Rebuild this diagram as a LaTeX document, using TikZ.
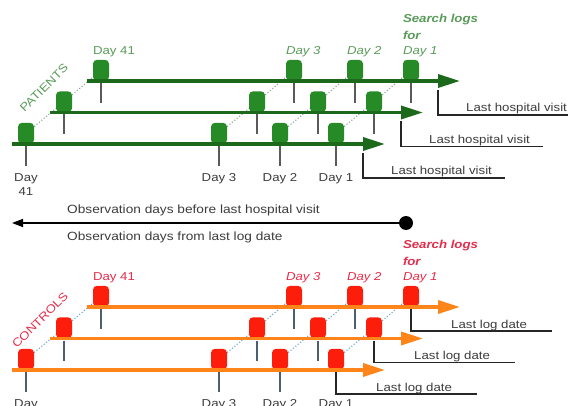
\documentclass[tikz,border=0pt]{standalone}
\usepackage{fontspec}
\setmainfont{Liberation Sans}[FakeStretch=1.15]
\usetikzlibrary{arrows.meta, positioning, backgrounds}
\definecolor{ptline}{RGB}{28,105,28}
\definecolor{ptmark}{RGB}{38,138,38}
\definecolor{pttext}{RGB}{90,155,90}
\definecolor{ctline}{RGB}{255,132,25}
\definecolor{ctmark}{RGB}{252,30,10}
\definecolor{cttext}{RGB}{228,45,75}
\definecolor{tickgray}{RGB}{90,90,90}
\definecolor{tickblue}{RGB}{75,95,110}
\definecolor{dotP}{RGB}{140,170,150}
\definecolor{dotC}{RGB}{110,170,205}
\definecolor{txtgray}{RGB}{60,60,60}
\tikzset{
  mkP/.style={rectangle, fill=ptmark, rounded corners=4pt,
    minimum width=16pt, minimum height=21pt, inner sep=0pt, anchor=south},
  mkC/.style={mkP, fill=ctmark},
  tlP/.style={line width=3.5pt, draw=ptline,
    -{Triangle[length=22pt, width=13pt]}},
  tlC/.style={tlP, draw=ctline},
  tckP/.style={line width=1.6pt, draw=tickgray},
  tckC/.style={tckP, draw=tickblue},
  dotsP/.style={dotted, line width=1.1pt, draw=dotP},
  dotsC/.style={dotsP, draw=dotC},
  brk/.style={line width=1.3pt, draw=black!85},
  lbl/.style={font=\fontsize{11.5}{14}\selectfont, text=txtgray, inner sep=0pt},
  obslbl/.style={lbl, font=\fontsize{11.9}{14}\selectfont},
  dayP/.style={lbl, text=pttext},
  dayPi/.style={dayP, font=\fontsize{11.5}{14}\selectfont\itshape},
  dayC/.style={lbl, text=cttext},
  dayCi/.style={dayC, font=\fontsize{11.5}{14}\selectfont\itshape},
  srchP/.style={dayP, align=left,
    font=\fontsize{11.5}{16.5}\selectfont\bfseries\itshape},
  srchC/.style={srchP, text=cttext},
  obs/.style={line width=1.4pt, draw=black,
    -{Triangle[length=11pt, width=8pt]}},
}

\begin{document}
\begin{tikzpicture}[x=1pt, y=-1pt]
  \useasboundingbox (0,0) rectangle (568,406);

  % patients
  \foreach \r/\s/\y in {1/87/81, 2/50/112.5, 3/12/144} {
    \foreach \d/\o in {a/14, b/207, c/268, d/324}
      \node[mkP] (p\r\d) at (\s+\o,\y) {};
    \coordinate (ps\r) at (\s,\y);
    \coordinate (pe\r) at (\s+373,\y);
    \draw[tlP] (ps\r) -- (pe\r);
    \foreach \d in {a,b,c,d}
      \draw[tckP] (p\r\d.south) ++(0,2) -- ++(0,20) coordinate (pt\r\d);
    \coordinate (bp\r) at (\s+351,\y+9);
    \draw[brk] (bp\r) |- ++(142,25);
    \node[lbl, anchor=base west] (lp\r) at (\s+379,\y+31) {Last hospital visit};
  }
  \begin{scope}[on background layer]
    \foreach \d in {a,b,c,d} {
      \draw[dotsP] (p3\d) -- (p2\d);
      \draw[dotsP] (p2\d) -- (p1\d);
    }
  \end{scope}

  \node[dayP, above=5pt of p1a.north west, anchor=base west] (d41p) {Day 41};
  \node[dayPi, above=5pt of p1b.north west, anchor=base west] (d3p) {Day 3};
  \node[dayPi, above=5pt of p1c.north west, anchor=base west] (d2p) {Day 2};
  \node[dayPi, above=5pt of p1d.north west, anchor=base west] (d1p) {Day 1};
  \node[srchP, above=7pt of d1p.north west, anchor=south west] (slp) {Search logs\\for};
  \node[dayP, rotate=45] (grpP) at (44,88) {PATIENTS};

  \node[lbl, below=7pt of pt3a, align=center] (b41p) {Day\\41};
  \node[lbl, below=7pt of pt3b] (b3p) {Day 3};
  \node[lbl, below=7pt of pt3c] (b2p) {Day 2};
  \node[lbl, below=7pt of pt3d] (b1p) {Day 1};

  % observation axis
  \node[circle, fill=black, minimum size=14pt, inner sep=0pt] (dot) at (406,223) {};
  \coordinate (obsL) at (12,223);
  \draw[obs] (dot) -- (obsL);
  \node[obslbl, anchor=west] (obs1) at (67,210) {Observation days before last hospital visit};
  \node[obslbl, anchor=west] (obs2) at (67,237) {Observation days from last log date};

  % controls
  \foreach \r/\s/\y in {1/87/307, 2/50/338.5, 3/12/370} {
    \foreach \d/\o in {a/14, b/207, c/268, d/324}
      \node[mkC] (c\r\d) at (\s+\o,\y) {};
    \coordinate (cs\r) at (\s,\y);
    \coordinate (ce\r) at (\s+373,\y);
    \draw[tlC] (cs\r) -- (ce\r);
    \foreach \d in {a,b,c}
      \draw[tckC] (c\r\d.south) ++(0,2) -- ++(0,20) coordinate (ct\r\d);
    \draw[brk] (c\r d.south) ++(0,2) |- ++(141,22) coordinate (ct\r d);
    \node[lbl, anchor=base west] (lc\r) at (\s+364,\y+21) {Last log date};
  }
  \begin{scope}[on background layer]
    \foreach \d in {a,b,c,d} {
      \draw[dotsC] (c3\d) -- (c2\d);
      \draw[dotsC] (c2\d) -- (c1\d);
    }
  \end{scope}

  \node[dayC, above=5pt of c1a.north west, anchor=base west] (d41c) {Day 41};
  \node[dayCi, above=5pt of c1b.north west, anchor=base west] (d3c) {Day 3};
  \node[dayCi, above=5pt of c1c.north west, anchor=base west] (d2c) {Day 2};
  \node[dayCi, above=5pt of c1d.north west, anchor=base west] (d1c) {Day 1};
  \node[srchC, above=7pt of d1c.north west, anchor=south west] (slc) {Search logs\\for};
  \node[dayC, rotate=45] (grpC) at (40,320) {CONTROLS};

  \node[lbl, below=7pt of ct3a, align=center] (b41c) {Day\\41};
  \node[lbl, below=7pt of ct3b] (b3c) {Day 3};
  \node[lbl, below=7pt of ct3c] (b2c) {Day 2};
  \node[lbl, below=7pt of c3d.south, yshift=-22pt] (b1c) {Day 1};
\end{tikzpicture}
\end{document}
